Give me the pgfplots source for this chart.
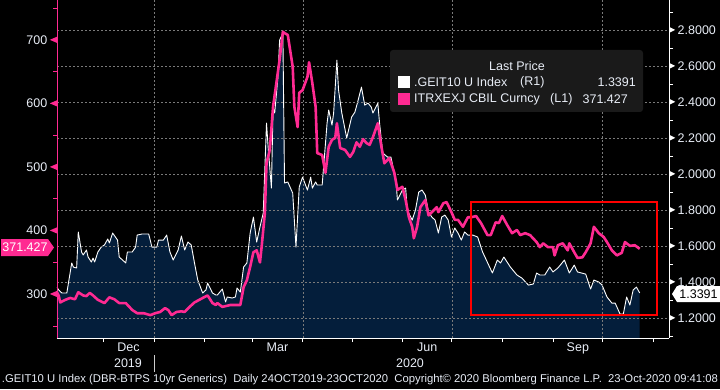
\documentclass[border=0pt]{standalone}
\usepackage{pgfplots}
\pgfplotsset{compat=1.18}
\usepackage{pgfplotstable}
\usepackage{graphicx}
\usepackage{fontspec}
\setmainfont{Liberation Sans}
\definecolor{bbpink}{HTML}{FF2A92}
\definecolor{bbnavy}{HTML}{041E3B}
\definecolor{bbgrid}{HTML}{7A7A7A}
\definecolor{bblab}{HTML}{E8EDF6}
\definecolor{bblegbg}{HTML}{1A1A1A}
\newsavebox\ptri
\newsavebox\wtri

\pgfplotstableread{
day val
0 1.372
1 1.356
3 1.339
6 1.339
9 1.506
10 1.483
12 1.478
13 1.678
15 1.567
16 1.550
18 1.578
19 1.539
21 1.511
22 1.533
23 1.511
25 1.567
27 1.594
29 1.606
31 1.639
32 1.617
34 1.672
37 1.633
38 1.539
42 1.506
43 1.567
46 1.567
48 1.594
49 1.661
52 1.667
56 1.667
58 1.594
61 1.594
62 1.633
65 1.633
67 1.661
69 1.567
71 1.522
74 1.578
76 1.656
78 1.578
80 1.622
82 1.606
84 1.506
86 1.411
89 1.339
91 1.356
92 1.394
95 1.339
97 1.328
98 1.328
101 1.361
103 1.289
104 1.317
107 1.311
109 1.317
110 1.367
112 1.344
114 1.483
116 1.506
118 1.672
120 1.761
122 1.622
124 1.706
126 1.783
128 2.283
129 2.150
131 1.922
132 2.372
133 2.339
135 2.539
136 2.744
138 2.783
139 1.950
141 1.956
144 1.894
146 1.594
148 1.928
150 1.983
153 1.911
155 1.983
156 1.922
158 1.956
159 1.939
162 1.939
165 2.283
166 2.356
168 2.272
169 2.339
171 2.633
172 2.467
174 2.339
177 2.200
180 2.317
182 2.344
184 2.411
186 2.483
188 2.383
190 2.394
192 2.372
193 2.339
196 2.394
197 2.289
199 2.117
202 2.094
204 2.094
207 1.967
208 1.856
211 1.911
213 1.922
214 1.800
217 1.744
219 1.800
221 1.900
223 1.911
225 1.883
227 1.789
229 1.761
231 1.744
233 1.672
235 1.761
237 1.772
239 1.744
241 1.650
243 1.700
245 1.672
247 1.633
249 1.678
251 1.661
254 1.661
257 1.650
260 1.567
266 1.450
269 1.522
271 1.506
273 1.539
277 1.483
281 1.439
284 1.422
288 1.383
291 1.389
293 1.450
295 1.439
298 1.439
301 1.483
303 1.456
306 1.478
310 1.522
313 1.450
316 1.494
318 1.456
323 1.444
326 1.361
328 1.411
331 1.400
333 1.383
336 1.317
339 1.283
341 1.283
344 1.222
346 1.222
348 1.317
350 1.272
352 1.356
354 1.372
356 1.3391
}\geit

\pgfplotstableread{
day val
0 303
1 298
2 287
5 291
8 294
11 292
13 303
16 298
18 297
20 302
22 298
25 291
29 286
32 295
35 292
38 286
42 286
46 275
49 270
53 270
57 267
60 270
63 272
66 278
68 275
70 267
73 272
76 273
78 272
81 280
84 287
89 294
92 298
95 286
97 283
98 286
101 280
106 283
112 283
114 311
116 322
118 343
120 366
122 369
124 350
125 374
127 428
128 506
130 527
132 595
134 632
136 669
138 713
139 711
141 708
144 658
145 595
147 563
148 617
150 621
153 642
154 665
156 632
158 595
159 522
162 519
164 491
166 532
168 543
170 546
171 569
173 530
176 527
179 516
181 524
183 539
185 532
187 544
189 538
191 535
193 547
196 569
198 535
200 506
203 514
206 492
208 464
211 469
213 448
215 421
217 406
218 388
220 406
222 437
225 448
227 424
229 429
232 437
233 429
236 443
238 445
241 429
243 417
245 417
248 406
251 421
253 421
256 423
259 412
263 393
265 393
268 413
270 412
272 423
275 409
278 396
281 401
283 393
286 396
289 393
293 382
295 374
297 380
300 374
303 374
304 361
306 377
309 380
312 369
313 380
316 366
318 357
321 358
323 366
326 380
328 406
331 396
334 390
336 382
339 369
342 361
345 365
347 382
350 376
353 377
356 371.427
}\itrx

\begin{document}%
\sbox\ptri{\tikz\fill[bbpink] (0,3pt)--(7pt,0pt)--(7pt,6pt)--cycle;}%
\sbox\wtri{\tikz\fill[white] (0,0pt)--(0,6pt)--(6pt,3pt)--cycle;}%
\begin{tikzpicture}[x=1pt,y=1pt]%
\path[use as bounding box] (0,0) rectangle (720,389);
\fill[black] (0,0) rectangle (720,389);

\begin{axis}[
  at={(57pt,51pt)}, anchor=south west, scale only axis,
  width=612pt, height=338pt,
  xmin=0, xmax=373.9, ymin=1.089, ymax=2.967,
  axis on top,
  axis x line*=bottom, axis y line*=right,
  axis line style={white, line width=0.8pt},
  tick align=outside, major tick length=0pt, minor tick length=4pt,
  minor tick style={white, line width=0.8pt},
  xtick={59.2,150.2,241.2,333.2}, xticklabels={},
  minor xtick={28.2,59.2,90.2,119.2,150.2,180.2,211.2,241.2,272.2,303.2,333.2,364.2},
  extra x ticks={43.7,134.7,226.2,318.2},
  extra x tick labels={Dec,Mar,Jun,Sep},
  extra x tick style={grid=none, major tick length=0pt},
  xticklabel style={text=bblab, font=\fontsize{12.5}{14}\selectfont, inner sep=0pt, yshift=-5pt},
  ytick={1.2,1.4,...,2.81},
  minor ytick={1.1,1.3,...,2.95},
  yticklabel={\raisebox{1.5pt}{\usebox\wtri}\hspace{2.5pt}\pgfmathprintnumber[fixed,fixed zerofill,precision=4]{\tick}},
  yticklabel style={anchor=west, inner sep=0pt, text=bblab, font=\fontsize{12.5}{14}\selectfont},
  /pgf/number format/assume math mode=true,
  grid=major,
  major grid style={bbgrid, line width=0.6pt, dash pattern=on 2pt off 2pt},
  clip=true,
]
\addplot[fill=bbnavy, draw=none] table[x=day,y=val] {\geit} \closedcycle;
\addplot[white, line width=0.9pt, line join=round] table[x=day,y=val] {\geit};
\end{axis}

\begin{axis}[
  at={(57pt,51pt)}, anchor=south west, scale only axis,
  width=612pt, height=338pt,
  xmin=0, xmax=373.9, ymin=231, ymax=763,
  axis x line=none, axis y line*=left,
  axis line style={bbpink, line width=1pt},
  tick align=outside, major tick length=0pt, minor tick length=4pt,
  minor tick style={bbpink, line width=0.8pt},
  ytick={300,400,500,600,700},
  minor ytick={250,350,450,550,650,750},
  yticklabel={\pgfmathprintnumber{\tick}\hspace{2.5pt}\raisebox{1.5pt}{\usebox\ptri}},
  yticklabel style={anchor=east, inner sep=0pt, text=bblab, font=\fontsize{12.5}{14}\selectfont},
  /pgf/number format/assume math mode=true,
  /pgf/number format/1000 sep={},
]
\addplot[bbpink, line width=2.6pt, line join=round] table[x=day,y=val] {\itrx};
\end{axis}

% year labels
\node[text=bblab, font=\fontsize{12.5}{14}\selectfont] at (128,26) {2019};
\node[text=bblab, font=\fontsize{12.5}{14}\selectfont] at (410,26) {2020};
\draw[white!80!black, line width=0.7pt] (154,17) -- (154,34);

% legend
\fill[bblegbg, rounded corners=3pt] (390,277) rectangle (643,339);
\node[text=bblab, font=\fontsize{12.5}{14}\selectfont] at (517,323) {Last Price};
\fill[white] (398,301) rectangle (410,313);
\fill[bbpink] (398,284) rectangle (410,296);
\node[anchor=west, inner sep=0pt, text=bblab, font=\fontsize{12.5}{14}\selectfont] at (414,307) {.GEIT10 U Index};
\node[anchor=west, inner sep=0pt, text=bblab, font=\fontsize{12.5}{14}\selectfont] at (520,307) {(R1)};
\node[anchor=east, inner sep=0pt, text=bblab, font=\fontsize{12.5}{14}\selectfont] at (636,307) {1.3391};
\node[anchor=west, inner sep=0pt, text=bblab, font=\fontsize{12.5}{14}\selectfont] at (414,290) {ITRXEXJ CBIL Curncy};
\node[anchor=west, inner sep=0pt, text=bblab, font=\fontsize{12.5}{14}\selectfont] at (550,290) {(L1)};
\node[anchor=east, inner sep=0pt, text=bblab, font=\fontsize{12.5}{14}\selectfont] at (628,290) {371.427};

% red box
\draw[red, line width=1.2pt] (471,74) rectangle (657,187);

% value tags
\fill[bbpink] (1,133) -- (48,133) -- (54,141.5) -- (48,150) -- (1,150) -- cycle;
\node[text=white, inner sep=0pt, font=\fontsize{12.5}{14}\selectfont] at (25,141.5) {371.427};
\fill[white] (672,95) -- (677,103) -- (720,103) -- (720,87) -- (677,87) -- cycle;
\node[text=black, inner sep=0pt, font=\fontsize{12.5}{14}\selectfont] at (698.5,95) {1.3391};

% footer
\node[text=bblab, inner sep=0pt] at (360,9) {\resizebox{716pt}{!}{\fontsize{11}{13}\selectfont .GEIT10 U Index (DBR-BTPS 10yr Generics)\ \ Daily 24OCT2019-23OCT2020\ \ Copyright\textcopyright{} 2020 Bloomberg Finance L.P.\ \ 23-Oct-2020 09:41:08}};
\end{tikzpicture}%
\end{document}
